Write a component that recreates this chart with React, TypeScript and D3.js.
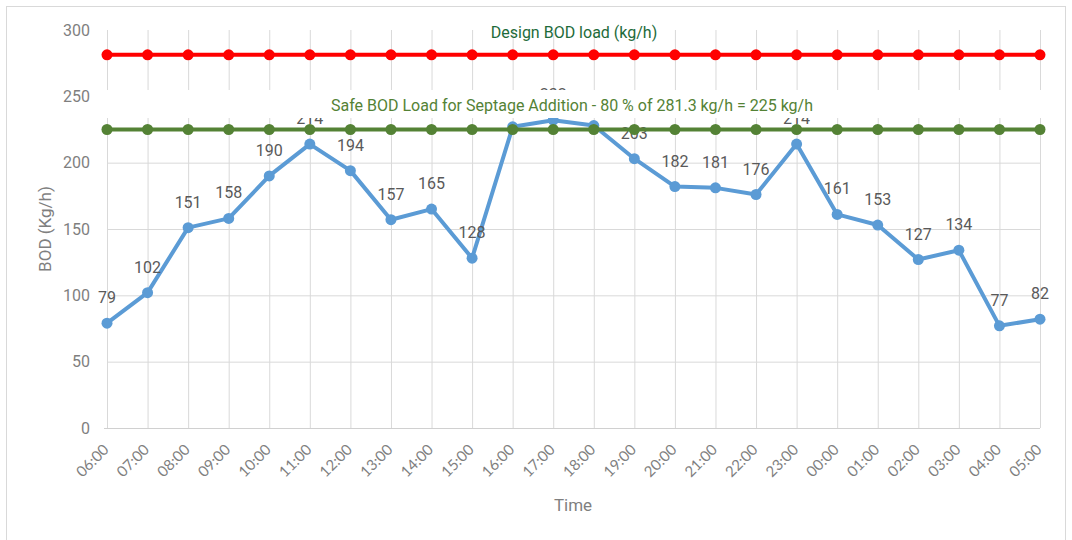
import { useEffect, useRef } from "react";
import * as d3 from "d3";

const hours = [
  "06:00", "07:00", "08:00", "09:00", "10:00", "11:00", "12:00", "13:00",
  "14:00", "15:00", "16:00", "17:00", "18:00", "19:00", "20:00", "21:00",
  "22:00", "23:00", "00:00", "01:00", "02:00", "03:00", "04:00", "05:00",
];
const bodLoad = [79, 102, 151, 158, 190, 214, 194, 157, 165, 128, 227, 232, 228, 203, 182, 181, 176, 214, 161, 153, 127, 134, 77, 82];
const designLoad = 281.3;
const safeLoad = 225;
const yTicks = [0, 50, 100, 150, 200, 250, 300];

const W = 1072;
const H = 540;

export default function App() {
  const svgRef = useRef<SVGSVGElement>(null);

  useEffect(() => {
    if (!svgRef.current) return;
    const svg = d3.select(svgRef.current);
    svg.selectAll("*").remove();

    const x = d3.scalePoint<string>().domain(hours).range([107, 1040]);
    const y = d3.scaleLinear().domain([0, 300]).range([428, 30]);
    const gray = "#595959";
    const light = "#7f7f7f";
    const font = "Roboto, sans-serif";

    // chart border
    svg.append("rect")
      .attr("x", 6.5).attr("y", 6.5)
      .attr("width", 1059).attr("height", 545)
      .attr("fill", "#fff").attr("stroke", "#d9d9d9");

    // gridlines
    svg.append("g").selectAll("line")
      .data(yTicks.filter(t => t > 0 && t < 300))
      .join("line")
      .attr("x1", 107).attr("x2", 1040)
      .attr("y1", d => y(d) + 0.5).attr("y2", d => y(d) + 0.5)
      .attr("stroke", "#d9d9d9");
    svg.append("g").selectAll("line")
      .data(hours)
      .join("line")
      .attr("x1", d => x(d)! + 0.5).attr("x2", d => x(d)! + 0.5)
      .attr("y1", y(300)).attr("y2", y(0))
      .attr("stroke", "#d9d9d9");
    svg.append("line")
      .attr("x1", 104).attr("x2", 1040)
      .attr("y1", y(0) + 0.5).attr("y2", y(0) + 0.5)
      .attr("stroke", "#d0d0d0");

    // y tick labels
    svg.append("g").selectAll("text")
      .data(yTicks)
      .join("text")
      .attr("x", 90).attr("y", d => y(d))
      .attr("dy", "0.35em")
      .attr("text-anchor", "end")
      .attr("font-family", font).attr("font-size", 16)
      .attr("fill", light)
      .text(d => d);

    // x tick labels
    svg.append("g").selectAll("text")
      .data(hours)
      .join("text")
      .attr("transform", d => `translate(${x(d)! - 1},${y(0) + 19}) rotate(-45)`)
      .attr("text-anchor", "end")
      .attr("dy", "0.35em")
      .attr("font-family", "Lato, Roboto, sans-serif").attr("font-size", 15)
      .attr("fill", light)
      .text(d => d);

    // axis titles
    svg.append("text")
      .attr("transform", `translate(45,${y(150)}) rotate(-90)`)
      .attr("dy", "0.35em")
      .attr("text-anchor", "middle")
      .attr("font-family", font).attr("font-size", 17)
      .attr("fill", light)
      .text("BOD (Kg/h)");
    svg.append("text")
      .attr("x", 573).attr("y", 511)
      .attr("text-anchor", "middle")
      .attr("font-family", font).attr("font-size", 17)
      .attr("fill", light)
      .text("Time");

    // BOD series
    const line = d3.line<number>()
      .x((_, i) => x(hours[i])!)
      .y(d => y(d));
    svg.append("path")
      .datum(bodLoad)
      .attr("d", line)
      .attr("fill", "none")
      .attr("stroke", "#5B9BD5")
      .attr("stroke-width", 4)
      .attr("stroke-linejoin", "round");
    svg.append("g").selectAll("circle")
      .data(bodLoad)
      .join("circle")
      .attr("cx", (_, i) => x(hours[i])!)
      .attr("cy", d => y(d))
      .attr("r", 5.5)
      .attr("fill", "#5B9BD5");
    svg.append("g").selectAll("text")
      .data(bodLoad)
      .join("text")
      .attr("x", (_, i) => x(hours[i])!)
      .attr("y", d => y(d) - 20)
      .attr("text-anchor", "middle")
      .attr("font-family", font).attr("font-size", 16)
      .attr("fill", gray)
      .text(d => d);

    // label box for safe load annotation
    svg.append("rect")
      .attr("x", 100).attr("y", 90)
      .attr("width", 945).attr("height", 28)
      .attr("fill", "#fff");

    const refLine = (value: number, color: string) => {
      const vals = hours.map(() => value);
      svg.append("path")
        .datum(vals)
        .attr("d", line)
        .attr("fill", "none")
        .attr("stroke", color)
        .attr("stroke-width", 4);
      svg.append("g").selectAll("circle")
        .data(vals)
        .join("circle")
        .attr("cx", (_, i) => x(hours[i])!)
        .attr("cy", d => y(d))
        .attr("r", 5.5)
        .attr("fill", color);
    };
    refLine(designLoad, "#FF0000");
    refLine(safeLoad, "#548235");

    svg.append("text")
      .attr("x", 574).attr("y", 32)
      .attr("dy", "0.35em")
      .attr("text-anchor", "middle")
      .attr("font-family", font).attr("font-size", 16)
      .attr("fill", "#1E6B3A")
      .text("Design BOD load (kg/h)");
    svg.append("text")
      .attr("x", 572).attr("y", 105)
      .attr("dy", "0.35em")
      .attr("text-anchor", "middle")
      .attr("font-family", font).attr("font-size", 16)
      .attr("fill", "#548235")
      .text("Safe BOD Load for Septage Addition - 80 % of 281.3 kg/h = 225 kg/h");
  }, []);

  return (
    <svg
      ref={svgRef}
      width={W}
      height={H}
      style={{ position: "absolute", left: 0, top: 0, background: "#fff" }}
    />
  );
}
